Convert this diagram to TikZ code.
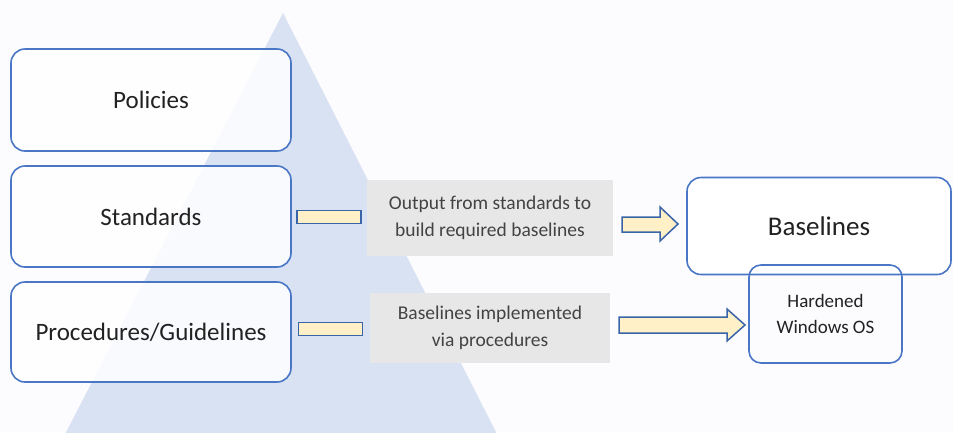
\documentclass[tikz,border=0pt]{standalone}
\usepackage{fontspec}
\setmainfont{Carlito}
\definecolor{pyramid}{HTML}{D9E2F2}
\definecolor{boxline}{HTML}{4A76C6}
\definecolor{arrowline}{HTML}{3A64A8}
\definecolor{arrowfill}{HTML}{FFF0C8}
\definecolor{notefill}{HTML}{E7E7E7}
\definecolor{txt}{HTML}{222222}
\begin{document}
\begin{tikzpicture}[x=1pt, y=-1pt,
    level/.style={draw=boxline, line width=1.6pt, rounded corners=14pt, fill=white, fill opacity=.85, text opacity=1, text=txt, inner sep=0pt},
    note/.style={fill=notefill, text=txt!85, inner sep=0pt, align=center, font=\fontsize{19.5}{27.5}\selectfont},
    stub/.style={draw=arrowline, line width=1.5pt, fill=arrowfill, inner sep=0pt, minimum width=64pt, minimum height=13pt}]
    \useasboundingbox (0,0) rectangle (953,432);
    \fill[fill=white!99!blue] (0,0) rectangle (953,432);
    \begin{scope}
        \clip (0,0) rectangle (953,432);
        \fill[pyramid] (283,13) -- (500,440) -- (62,440) -- cycle;
    \end{scope}

    % the three levels
    \node[level, minimum width=280pt, minimum height=102pt, font=\fontsize{25}{30}\selectfont] (policies) at (151,100) {Policies};
    \node[level, minimum width=280pt, minimum height=101pt, font=\fontsize{25}{30}\selectfont] (standards) at (151,216.5) {Standards};
    \node[level, minimum width=280pt, minimum height=100pt, font=\fontsize{25}{30}\selectfont] (procs) at (151,332) {Procedures/Guidelines};

    % grey notes and stubs
    \node[stub] (stubA) at (329,217) {};
    \node[stub] (stubB) at (330.5,329) {};
    \node[note, minimum width=246pt, minimum height=76pt] (outnote) at (490,218) {Output from standards to\\build required baselines};
    \node[note, minimum width=240pt, minimum height=70pt] (implnote) at (490,328) {Baselines implemented\\via procedures};

    % block arrows
    \draw[arrowline, line width=1.5pt, fill=arrowfill, line join=miter]
        (622,217) -- (660,217) -- (660,207) -- (678,224) -- (660,241) -- (660,232) -- (622,232) -- cycle;
    \draw[arrowline, line width=1.5pt, fill=arrowfill, line join=miter]
        (619,317) -- (727,317) -- (727,309) -- (745,325) -- (727,341) -- (727,333) -- (619,333) -- cycle;

    % results
    \node[level, fill opacity=1, minimum width=264pt, minimum height=97pt, font=\fontsize{27}{32}\selectfont] (baselines) at (819,226) {Baselines};
    \node[level, fill opacity=0, rounded corners=12pt, minimum width=153pt, minimum height=98pt, align=center, font=\fontsize{19}{26}\selectfont] (hardened) at (825.5,314) {Hardened\\Windows OS};
\end{tikzpicture}
\end{document}
